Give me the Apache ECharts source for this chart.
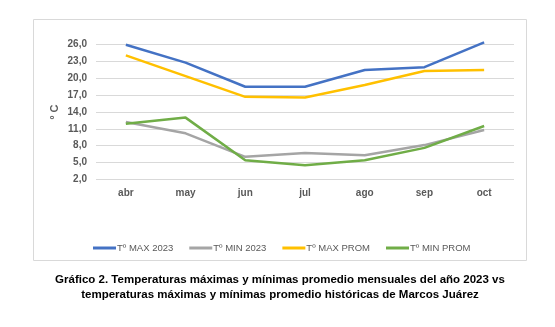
<!DOCTYPE html>
<html><head><meta charset="utf-8">
<script src="https://cdn.jsdelivr.net/npm/echarts@6/dist/echarts.min.js"></script>
<style>html,body{margin:0;padding:0;background:#fff}#c{width:555px;height:327px}</style>
</head><body><div id="c"></div>
<script>
const categories = ['abr','may','jun','jul','ago','sep','oct'];
const maxActual = [26.0, 22.8, 18.5, 18.5, 21.5, 22.0, 26.4];
const minActual = [12.2, 10.2, 6.0, 6.7, 6.3, 8.1, 10.8];
const maxProm = [24.1, 20.4, 16.7, 16.6, 18.8, 21.3, 21.5];
const minProm = [11.9, 13.0, 5.4, 4.5, 5.4, 7.6, 11.5];
const seriesNames = ['Tº MAX 2023','Tº MIN 2023','Tº MAX PROM','Tº MIN PROM'];
const colors = ['#4472C4','#A5A5A5','#FFC000','#70AD47'];
const yMin = 2, yMax = 26, yStep = 3;
const yName = 'º C';
const titleText = 'Gráfico 2. Temperaturas máximas y mínimas promedio mensuales del año 2023 vs\ntemperaturas máximas y mínimas promedio históricas de Marcos Juárez';

const chart = echarts.init(document.getElementById('c'), null, {renderer:'canvas'});
const dataSets = [maxActual, minActual, maxProm, minProm];
chart.setOption({
  animation:false,
  color: colors,
  textStyle:{fontFamily:'Liberation Sans, Arial, sans-serif'},
  graphic:[
    {type:'rect', shape:{x:33.5,y:19.5,width:493,height:241}, style:{fill:'none', stroke:'#D9D9D9', lineWidth:1}, silent:true},
    {type:'text', x:280, y:272, style:{text:titleText, align:'center', verticalAlign:'top', fill:'#000',
      font:'bold 11.5px "Liberation Sans", Arial, sans-serif', lineHeight:15}, silent:true},
    {type:'text', x:55, y:112, rotation:Math.PI/2, style:{text:yName, align:'center', verticalAlign:'middle', fill:'#595959',
      font:'bold 11px "Liberation Sans", Arial, sans-serif'}, silent:true}
  ],
  legend:{data:seriesNames, left:88, top:238, itemWidth:23, itemHeight:3, itemGap:16, icon:'rect',
    textStyle:{fontSize:9.5, color:'#595959', padding:[0,0,0,-4]}},
  grid:{left:96, right:41, top:44.7, bottom:147.7},
  xAxis:{type:'category', data:categories, boundaryGap:true,
    axisLine:{show:false}, axisTick:{show:false},
    axisLabel:{fontSize:10, fontWeight:'bold', color:'#595959', margin:9}},
  yAxis:{type:'value', min:yMin, max:yMax, interval:yStep,
    axisLine:{show:false}, axisTick:{show:false},
    axisLabel:{fontSize:10, fontWeight:'bold', color:'#595959', margin:9, formatter:v=>v.toFixed(1).replace('.',',')},
    splitLine:{lineStyle:{color:'#D9D9D9', width:1}}},
  series: seriesNames.map((n,i)=>({name:n, type:'line', data:dataSets[i], symbol:'none', clip:false, lineStyle:{width:2.5}}))
});
</script></body></html>
